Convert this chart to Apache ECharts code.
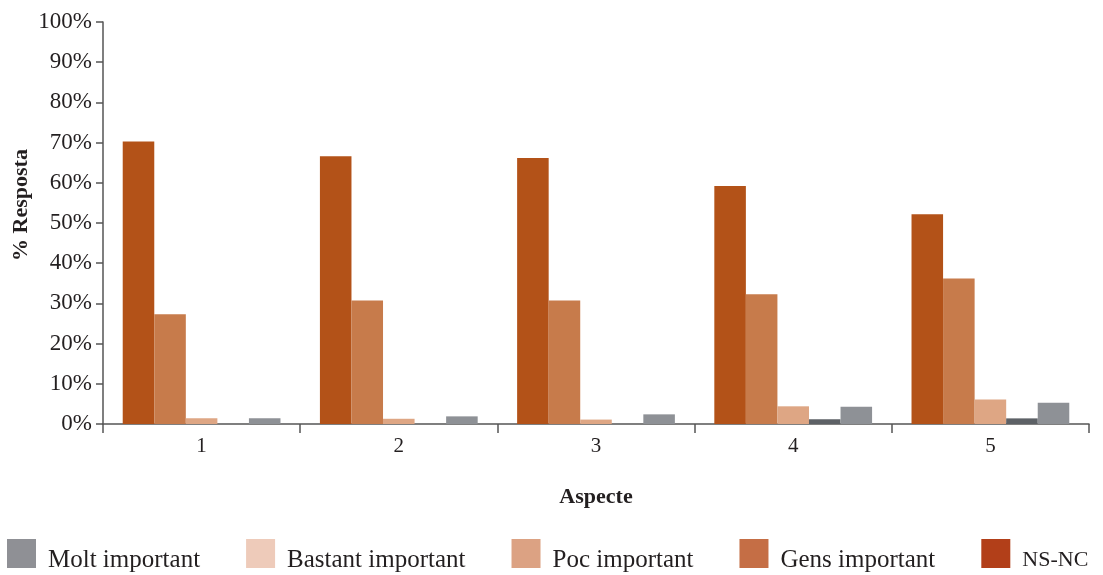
<!DOCTYPE html>
<html><head><meta charset="utf-8">
<script src="https://cdn.jsdelivr.net/npm/echarts@6/dist/echarts.min.js"></script>
<style>html,body{margin:0;padding:0;background:#fff}#c{width:1103px;height:575px}</style>
</head><body><div id="c"></div>
<script>
const categories = ['1', '2', '3', '4', '5'];
const seriesNames = ['NS-NC', 'Gens important', 'Poc important', 'Bastant important', 'Molt important'];
const legendOrder = ['Molt important', 'Bastant important', 'Poc important', 'Gens important', 'NS-NC'];
const valNSNC = [70.3, 66.6, 66.2, 59.2, 52.2];
const valGens = [27.3, 30.7, 30.7, 32.3, 36.2];
const valPoc = [1.4, 1.3, 1.1, 4.4, 6.1];
const valBastant = [0, 0, 0, 1.2, 1.4];
const valMolt = [1.4, 1.9, 2.4, 4.3, 5.3];
const yTicks = [0, 10, 20, 30, 40, 50, 60, 70, 80, 90, 100];
const yName = '% Resposta';
const xName = 'Aspecte';

const barColors = ['#b35218', '#c77b4b', '#dea684', '#5d6166', '#8e9196'];
const legendColors = {'Molt important':'#8f9095','Bastant important':'#eecbba','Poc important':'#dca283','Gens important':'#c56e45','NS-NC':'#b23f19'};
const values = [valNSNC, valGens, valPoc, valBastant, valMolt];
const font = 'Liberation Serif';

const richA = size => ({fontFamily: font, fontSize: size, color: '#231f20', padding: [14, 0, 0, 0]});

const chart = echarts.init(document.getElementById('c'));
chart.setOption({
  animation: false,
  textStyle: {fontFamily: font, color: '#231f20'},
  grid: {left: 103, right: 14, top: 22, bottom: 151, containLabel: false, outerBoundsMode: 'none'},
  graphic: [{
    type: 'text', x: 21, y: 205, rotation: Math.PI / 2,
    style: {text: yName, fill: '#231f20', font: 'bold 22px "Liberation Serif"', align: 'center', verticalAlign: 'middle'}
  }],
  legend: {
    left: 2, top: 534, width: 1200, itemWidth: 29, itemHeight: 29, itemGap: 46,
    icon: 'rect',
    formatter: '{a|{name}}',
    textStyle: {fontFamily: font, fontSize: 25, color: '#231f20', padding: [0, 0, 0, 7],
      rich: {a: richA(25)}},
    data: legendOrder.map(n => ({
      name: n, itemStyle: {color: legendColors[n]},
      textStyle: n === 'NS-NC' ? {fontSize: 22, rich: {a: richA(22)}} : undefined
    }))
  },
  xAxis: {
    type: 'category', data: categories,
    name: xName, nameLocation: 'middle', nameGap: 62,
    nameTextStyle: {fontFamily: font, fontSize: 22, fontWeight: 'bold', color: '#231f20'},
    axisLine: {lineStyle: {color: '#555', width: 1.5}},
    axisTick: {show: true, length: 9, lineStyle: {color: '#555', width: 1.5}},
    axisLabel: {fontFamily: font, fontSize: 21, color: '#231f20', margin: 12}
  },
  yAxis: {
    type: 'value', min: 0, max: 100, interval: 10,
    axisLine: {show: true, lineStyle: {color: '#555', width: 1.5}},
    axisTick: {show: true, length: 7, lineStyle: {color: '#555', width: 1.5}},
    splitLine: {show: false},
    axisLabel: {fontFamily: font, fontSize: 23, color: '#231f20', margin: 11,
      formatter: v => yTicks.includes(v) ? v + '%' : ''}
  },
  series: seriesNames.map((n, i) => ({
    name: n, type: 'bar', data: values[i],
    barGap: 0, barCategoryGap: '20%',
    itemStyle: {color: barColors[i]}
  }))
});
</script></body></html>
